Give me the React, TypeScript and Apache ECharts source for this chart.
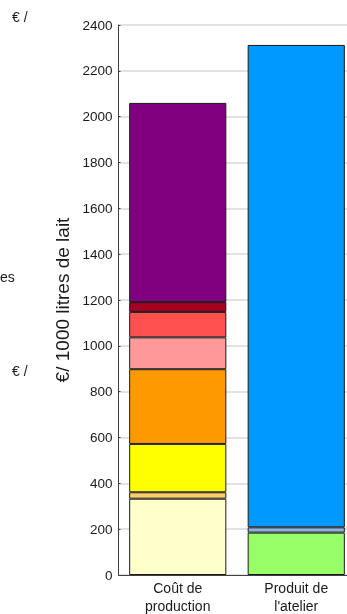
import React, { useEffect, useRef } from "react";
import * as echarts from "echarts";

const categories = ["Coût de\nproduction", "Produit de\nl'atelier"];
const yTicks = { min: 0, max: 2400, interval: 200 };

const costNames = [
  "Approvisionnement des animaux",
  "Frais d'élevage",
  "Mécanisation",
  "Bâtiments et installations",
  "Frais divers de gestion",
  "Foncier et capital",
  "Travail salarié",
  "Rémunération de l'exploitant",
];
const costValues = [333, 28, 211, 326, 139, 111, 43, 869];
const costColors = ["#FFFFCC", "#FFCC66", "#FFFF00", "#FF9900", "#FF9999", "#FF5050", "#A50021", "#800080"];

const productNames = ["Produit viande", "Aides", "Produit lait"];
const productValues = [185, 23, 2105];
const productColors = ["#99FF66", "#8DB4E2", "#0099FF"];

const sideTexts = [
  { text: "€ /", x: 12, y: 18 },
  { text: "es", x: 0, y: 278 },
  { text: "€ /", x: 12, y: 372 },
];

export default function App() {
  const ref = useRef<HTMLDivElement>(null);
  useEffect(() => {
    if (!ref.current) return;
    const chart = echarts.init(ref.current, undefined, { renderer: "svg" });
    const series: any[] = [];
    costValues.forEach((v, i) => {
      series.push({
        name: costNames[i],
        type: "bar",
        stack: "total",
        data: [v, "-"],
        itemStyle: { color: costColors[i], borderColor: "#1a1a1a", borderWidth: 1 },
        barCategoryGap: "18%",
      });
    });
    productValues.forEach((v, i) => {
      series.push({
        name: productNames[i],
        type: "bar",
        stack: "total",
        data: ["-", v],
        itemStyle: { color: productColors[i], borderColor: "#1a1a1a", borderWidth: 1 },
        barCategoryGap: "18%",
      });
    });
    chart.setOption({
      animation: false,
      textStyle: { fontFamily: "Liberation Sans, Arial, sans-serif" },
      grid: { left: 118.5, top: 25, width: 237, height: 550, outerBoundsMode: "none", containLabel: false },
      xAxis: {
        type: "category",
        data: categories,
        axisLine: { lineStyle: { color: "#404040", width: 1 } },
        axisTick: { inside: true, length: 3, lineStyle: { color: "#404040" } },
        axisLabel: { color: "#1a1a1a", fontSize: 14, lineHeight: 18, margin: 4 },
      },
      yAxis: {
        type: "value",
        min: yTicks.min,
        max: yTicks.max,
        interval: yTicks.interval,
        name: "€/ 1000 litres de lait",
        nameLocation: "middle",
        nameGap: 40,
        nameTextStyle: { fontSize: 19, color: "#1a1a1a" },
        axisLine: { show: true, lineStyle: { color: "#404040", width: 1 } },
        axisTick: { show: true, inside: true, length: 2, lineStyle: { color: "#404040" } },
        axisLabel: { color: "#1a1a1a", fontSize: 13.5, margin: 6, formatter: (v: number) => String(v) },
        splitLine: { lineStyle: { color: "#d9d9d9", width: 1.5 } },
      },
      graphic: sideTexts.map((t) => ({
        type: "text",
        left: t.x,
        top: t.y - 8,
        style: { text: t.text, fontSize: 14, fill: "#1a1a1a", fontFamily: "Liberation Sans, Arial, sans-serif" },
      })),
      series,
    });
    return () => chart.dispose();
  }, []);
  return <div ref={ref} style={{ position: "fixed", left: 0, top: 0, width: 347, height: 614 }} />;
}
